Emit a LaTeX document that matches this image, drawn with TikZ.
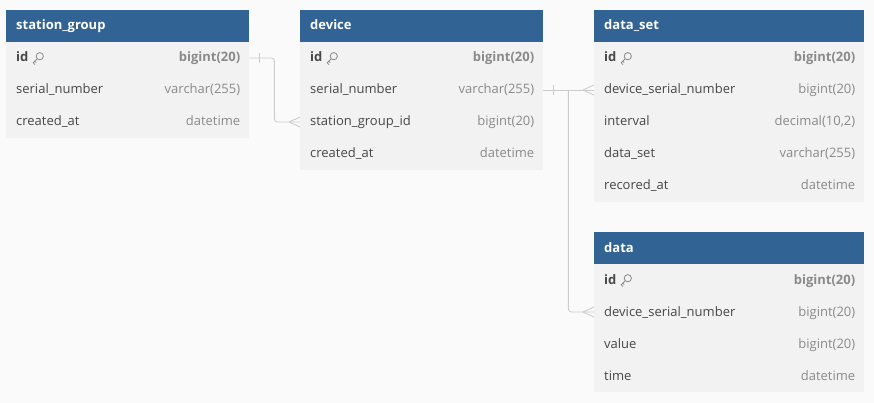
\documentclass[tikz,border=0pt]{standalone}
\usepackage{fontspec}
\setmainfont{Open Sans}
\usetikzlibrary{positioning}
\definecolor{bg}{HTML}{FAFAFA}
\definecolor{hdrblue}{HTML}{316395}
\definecolor{tblbody}{HTML}{F2F2F2}
\definecolor{fieldtxt}{HTML}{474747}
\definecolor{typetxt}{HTML}{8A8A8A}
\definecolor{linkgray}{HTML}{CCCCCC}

\tikzset{
  every node/.style={inner sep=0pt, font=\fontsize{13}{15}\selectfont},
  rowbox/.style={minimum height=32pt, anchor=west},
  field/.style={text=fieldtxt, anchor=west, text height=10pt, text depth=2pt},
  type/.style={text=typetxt, anchor=east, text height=10pt, text depth=2pt},
  title/.style={text=white, anchor=west, text height=10pt, text depth=2pt,
    font=\fontsize{13}{15}\selectfont\bfseries},
  link/.style={draw=linkgray, line width=0.9pt},
  keyicon/.pic={
    \draw[typetxt, line width=0.8pt] (7.2,-1.8) circle (3.6);
    \draw[typetxt, line width=0.8pt] (4.6,0.8) -- (0.6,4.8) -- (2.4,6.6)
      (2.2,3.2) -- (3.6,4.6);
  }
}

% table frame: name, x, y, width, rows, title
\newcommand{\erdtable}[6]{%
  \fill[hdrblue] (#2,#3) rectangle ++(#4,32);
  \fill[tblbody] (#2,#3+32) rectangle ++(#4,32*#5);
  \node[title] (#1) at (#2+10,#3+16) {#6};
}
% table row: name, x, width, y, field, type
\newcommand{\erdrow}[6]{%
  \node[rowbox, minimum width=#3pt] (#1) at (#2,#4) {};
  \node[field] (#1-f) at ([xshift=10pt]#1.west) {#5};
  \node[type] (#1-t) at ([xshift=-9pt]#1.east) {#6};
}

\begin{document}
\begin{tikzpicture}[x=1pt, y=-1pt]
\fill[bg] (0,0) rectangle (874,403);
\useasboundingbox (0,0) rectangle (874,403);

% station_group
\erdtable{sg}{6}{10}{243}{3}{station\_group}
\erdrow{sg-id}{6}{243}{58}{\bfseries id}{\bfseries bigint(20)}
\erdrow{sg-sn}{6}{243}{90}{serial\_number}{varchar(255)}
\erdrow{sg-ca}{6}{243}{122}{created\_at}{datetime}

% device
\erdtable{dev}{300}{10}{243}{4}{device}
\erdrow{dev-id}{300}{243}{58}{\bfseries id}{\bfseries bigint(20)}
\erdrow{dev-sn}{300}{243}{90}{serial\_number}{varchar(255)}
\erdrow{dev-sgid}{300}{243}{122}{station\_group\_id}{bigint(20)}
\erdrow{dev-ca}{300}{243}{154}{created\_at}{datetime}

% data_set
\erdtable{ds}{594}{10}{270}{5}{data\_set}
\erdrow{ds-id}{594}{270}{58}{\bfseries id}{\bfseries bigint(20)}
\erdrow{ds-dsn}{594}{270}{90}{device\_serial\_number}{bigint(20)}
\erdrow{ds-iv}{594}{270}{122}{interval}{decimal(10,2)}
\erdrow{ds-set}{594}{270}{154}{data\_set}{varchar(255)}
\erdrow{ds-ra}{594}{270}{186}{recored\_at}{datetime}

% data
\erdtable{d}{594}{232}{270}{4}{data}
\erdrow{d-id}{594}{270}{280}{\bfseries id}{\bfseries bigint(20)}
\erdrow{d-dsn}{594}{270}{312}{device\_serial\_number}{bigint(20)}
\erdrow{d-val}{594}{270}{344}{value}{bigint(20)}
\erdrow{d-time}{594}{270}{376}{time}{datetime}

\foreach \t in {sg-id, dev-id, ds-id, d-id}
  \pic at ([xshift=4pt]\t-f.east) {keyicon};

% station_group.id -> device.station_group_id
\draw[link, rounded corners=3pt] (sg-id.east) -- ++(25,0) |- (dev-sgid.west);
\draw[link] ([xshift=10pt]sg-id.east) ++(0,-5) -- ++(0,10);
\draw[link] ([xshift=-11pt]dev-sgid.west) -- ++(11,-5)
  ([xshift=-11pt]dev-sgid.west) -- ++(11,5);

% device.serial_number -> data_set / data
\draw[link] (dev-sn.east) -- (ds-dsn.west);
\draw[link, rounded corners=3pt] (dev-sn.east) ++(25,0) |- (d-dsn.west);
\draw[link] ([xshift=10pt]dev-sn.east) ++(0,-5) -- ++(0,10);
\foreach \t in {ds-dsn, d-dsn}
  \draw[link] ([xshift=-11pt]\t.west) -- ++(11,-5)
    ([xshift=-11pt]\t.west) -- ++(11,5);
\end{tikzpicture}
\end{document}
